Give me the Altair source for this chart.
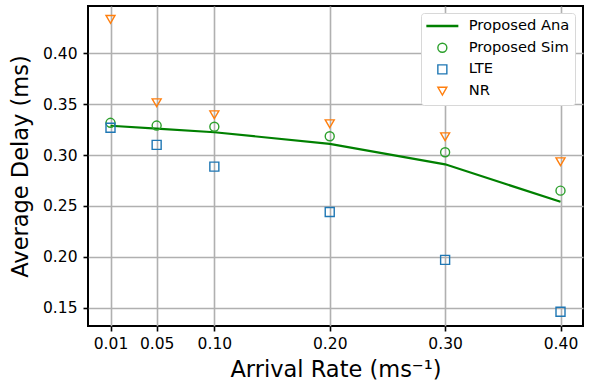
import altair as alt
import pandas as pd

rates = [0.01, 0.05, 0.10, 0.20, 0.30, 0.40]
ana = [0.3288, 0.3259, 0.3224, 0.3110, 0.2909, 0.2541]
sim = [0.3317, 0.3290, 0.3278, 0.3185, 0.3028, 0.2650]
lte = [0.3268, 0.3100, 0.2886, 0.2440, 0.1970, 0.1460]
nr = [0.4334, 0.3514, 0.3396, 0.3308, 0.3180, 0.2934]

series = ["Proposed Ana", "Proposed Sim", "LTE", "NR"]
colors = ["#008000", "#2ca02c", "#1f77b4", "#ff7f0e"]
shapes = ["stroke", "circle", "square", "triangle-down"]
x_ticks = [0.01, 0.05, 0.10, 0.20, 0.30, 0.40]
y_ticks = [0.15, 0.20, 0.25, 0.30, 0.35, 0.40]

rows = []
for name, vals in zip(series, [ana, sim, lte, nr]):
    for r, v in zip(rates, vals):
        rows.append({"rate": r, "delay": v, "series": name})
df = pd.DataFrame(rows)

font = "DejaVu Sans"
leg = alt.Legend(
    title=None, orient="none", legendX=333, legendY=7, clipHeight=16,
    symbolSize={"expr": "datum.value === 'Proposed Ana' ? 1024 : 81"},
    symbolStrokeWidth={"expr": "datum.value === 'Proposed Ana' ? 2.4 : 1.4"},
    symbolOffset=9, labelOffset=19,
)
xenc = alt.X("rate:Q", scale=alt.Scale(domain=[-0.0095, 0.4195], nice=False, zero=False),
             axis=alt.Axis(values=x_ticks, format=".2f", title="Arrival Rate (ms⁻¹)"))
yenc = alt.Y("delay:Q", scale=alt.Scale(domain=[0.132, 0.4465], nice=False, zero=False),
             axis=alt.Axis(values=y_ticks, format=".2f", title="Average Delay (ms)"))
color = alt.Color("series:N", scale=alt.Scale(domain=series, range=colors), legend=leg)
shape = alt.Shape("series:N", scale=alt.Scale(domain=series, range=shapes), legend=leg)

line = alt.Chart(df[df.series == "Proposed Ana"]).mark_line(strokeWidth=2.2).encode(
    x=xenc, y=yenc, color=color)
pts = alt.Chart(df[df.series != "Proposed Ana"]).mark_point(
    filled=False, opacity=1, size=81, strokeWidth=1.4).encode(
    x=xenc, y=yenc, color=color, shape=shape)

chart = alt.layer(line, pts).properties(
    width=495, height=320,
    autosize=alt.AutoSizeParams(type="none"),
    padding={"left": 88, "top": 6, "right": 6, "bottom": 60},
).configure_view(stroke="black", strokeWidth=2).configure_axis(
    grid=True, gridColor="#b0b0b0", gridWidth=1.6, domain=False,
    tickColor="black", tickSize=5, tickWidth=1.6,
    labelFont=font, labelFontSize=15.5, labelColor="black",
    titleFont=font, titleFontSize=22.5, titleColor="black", titleFontWeight="normal",
).configure_axisX(labelPadding=5, titlePadding=7).configure_axisY(
    labelPadding=6, titlePadding=10).configure_legend(
    labelFont=font, labelFontSize=14.7, labelColor="black",
    fillColor="white", strokeColor="#d8d8d8", cornerRadius=3, padding=5,
    rowPadding=5.7,
)

chart.save("out.html", embed_options={"renderer": "svg", "actions": False})
